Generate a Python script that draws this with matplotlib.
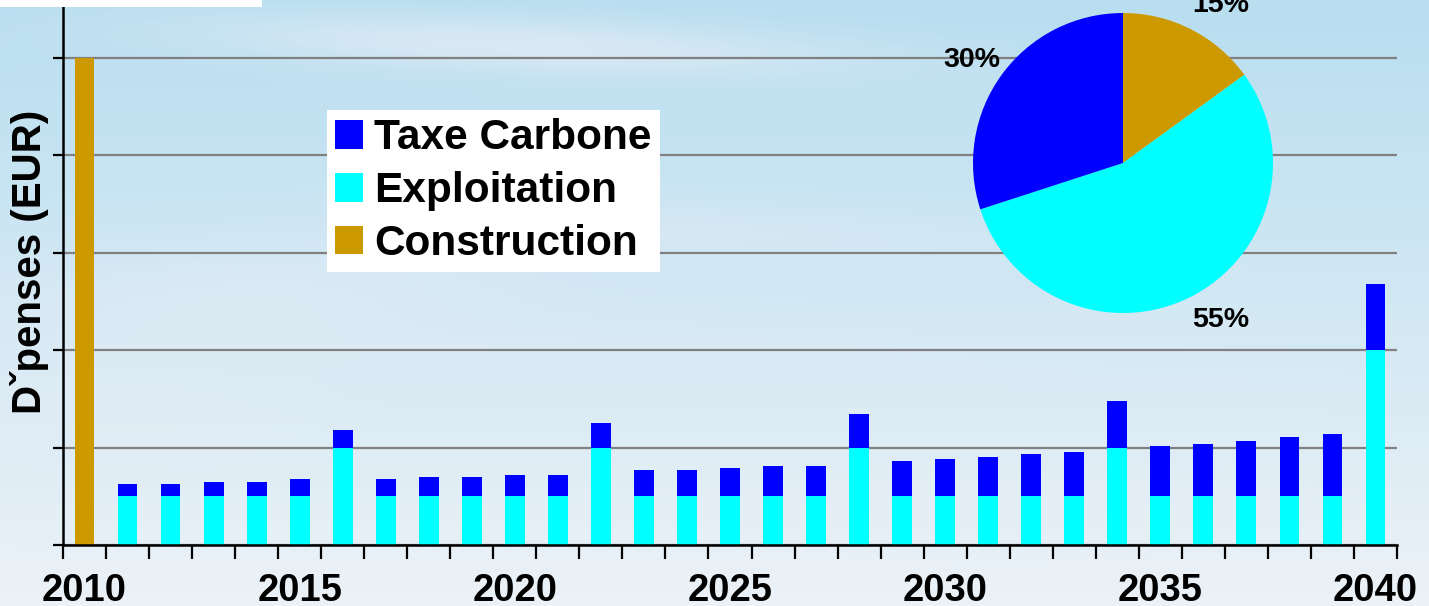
import numpy as np
import matplotlib
matplotlib.use("Agg")
import matplotlib.pyplot as plt
from matplotlib.patches import Rectangle

plt.rcParams['font.family'] = ['Liberation Sans', 'DejaVu Sans']
plt.rcParams['font.weight'] = 'bold'

# ---- data -------------------------------------------------------------
years = list(range(2010, 2041))
construction = [5.0] + [0.0] * 30
exploitation = [0.0,
                0.5, 0.5, 0.5, 0.5, 0.5, 1.0,
                0.5, 0.5, 0.5, 0.5, 0.5, 1.0,
                0.5, 0.5, 0.5, 0.5, 0.5, 1.0,
                0.5, 0.5, 0.5, 0.5, 0.5, 1.0,
                0.5, 0.5, 0.5, 0.5, 0.5, 2.0]
taxe_carbone = [0.0,
                0.13, 0.13, 0.15, 0.15, 0.175, 0.18,
                0.175, 0.195, 0.195, 0.22, 0.22, 0.25,
                0.27, 0.27, 0.29, 0.31, 0.31, 0.34,
                0.36, 0.38, 0.40, 0.43, 0.45, 0.48,
                0.52, 0.54, 0.565, 0.61, 0.64, 0.68]
labeled_years = [2010, 2015, 2020, 2025, 2030, 2035, 2040]

share_names = ['Construction', 'Exploitation', 'Taxe Carbone']
share_values = [15, 55, 30]
share_labels = ['15%', '55%', '30%']

colors = {'Construction': '#CC9900', 'Exploitation': '#00FFFF',
          'Taxe Carbone': '#0000FF'}

# ---- figure -----------------------------------------------------------
W, H = 1429, 606
fig = plt.figure(figsize=(W / 100, H / 100), dpi=100)

# sky background
yy, xx = np.mgrid[0:H, 0:W].astype(float)
t = yy / H
top = np.array([184, 222, 240]) / 255
bot = np.array([236, 242, 247]) / 255
bg = top[None, None, :] * (1 - t[..., None]) + bot[None, None, :] * t[..., None]
haze = np.zeros((H, W))
for cx, cy, sx, sy, amp, tilt in [
        (520, 45, 330, 28, 0.75, 0.04),
        (250, 300, 260, 55, 0.55, -0.05),
        (700, 230, 300, 30, 0.35, 0.03),
        (120, 420, 200, 60, 0.5, 0.0),
        (1000, 480, 400, 60, 0.35, 0.0),
        (600, 360, 380, 35, 0.35, 0.02)]:
    dy = (yy - cy) - tilt * (xx - cx)
    haze += amp * np.exp(-((xx - cx) / sx) ** 2 - (dy / sy) ** 2)
haze = np.clip(haze, 0, 1)[..., None]
cloud = np.array([228, 236, 245]) / 255
bg = bg * (1 - haze) + cloud[None, None, :] * haze
bgax = fig.add_axes([0, 0, 1, 1], zorder=-10)
bgax.imshow(bg, aspect='auto', extent=(0, 1, 0, 1))
bgax.set_axis_off()

# white box in the top-left corner
fig.patches.append(Rectangle((0, 1 - 7 / H), 262 / W, 7 / H,
                             transform=fig.transFigure, facecolor='white',
                             edgecolor='none', zorder=5))

# ---- stacked bars -----------------------------------------------------
ax = fig.add_axes([63 / W, 61 / H, (1397 - 63) / W, 545 / H])
ax.set_facecolor('none')
x = np.arange(len(years))
bw = 0.46
b_con = ax.bar(x, construction, bw, color=colors['Construction'],
               label='Construction', zorder=3)
b_exp = ax.bar(x, exploitation, bw, color=colors['Exploitation'],
               label='Exploitation', zorder=3)
b_tax = ax.bar(x, taxe_carbone, bw, bottom=exploitation,
               color=colors['Taxe Carbone'], label='Taxe Carbone', zorder=3)

ax.set_xlim(-0.5, len(years) - 0.5)
ax.set_ylim(0, 545 / 97.4)
ax.set_yticks([0, 1, 2, 3, 4, 5])
ax.set_yticklabels([])
ax.yaxis.grid(True, color='#808080', linewidth=1.6, zorder=1)
ax.set_axisbelow(True)

ax.set_xticks(np.arange(len(years) + 1) - 0.5)
ax.set_xticklabels([])
ax.set_xticks([years.index(y) for y in labeled_years], minor=True)
ax.set_xticklabels([str(y) for y in labeled_years], minor=True,
                   fontsize=27.5, fontweight='bold')
ax.tick_params(axis='x', which='major', direction='out', length=10,
               width=1.6, color='black')
ax.tick_params(axis='x', which='minor', length=0, pad=20)
ax.tick_params(axis='y', direction='out', length=7, width=1.6,
               color='black')
for side in ('top', 'right'):
    ax.spines[side].set_visible(False)
for side in ('left', 'bottom'):
    ax.spines[side].set_linewidth(1.8)
    ax.spines[side].set_color('black')
    ax.spines[side].set_zorder(4)

fig.text(30 / W, 1 - 262 / H, 'Dˇpenses (EUR)', rotation=90,
         ha='center', va='center', fontsize=29, fontweight='bold')

leg = fig.legend(handles=[b_tax, b_exp, b_con],
                 labels=['Taxe Carbone', 'Exploitation', 'Construction'],
                 loc='upper left', bbox_to_anchor=(327 / W, 1 - 110 / H),
                 bbox_transform=fig.transFigure, borderaxespad=0,
                 prop={'size': 30.5, 'weight': 'bold'},
                 handlelength=0.66, handleheight=0.66, handletextpad=0.26,
                 labelspacing=0.3, borderpad=0.2, fancybox=False,
                 framealpha=1, facecolor='white', edgecolor='none')
leg.set_zorder(6)

# ---- share pie --------------------------------------------------------
r_px = 150
cx_px, cy_px = 1123, 163
size = 2.5 * r_px
pax = fig.add_axes([(cx_px - size / 2) / W, 1 - (cy_px + size / 2) / H,
                    size / W, size / H], zorder=5)
pax.pie(share_values, colors=[colors[n] for n in share_names],
        startangle=90, counterclock=False,
        wedgeprops={'linewidth': 0})
pax.set_xlim(-1.25, 1.25)
pax.set_ylim(-1.25, 1.25)
pax.set_aspect('equal')
label_pos = [(0.653, 1.053), (0.653, -1.047), (-1.007, 0.687)]
for lbl, (lx, ly) in zip(share_labels, label_pos):
    pax.text(lx, ly, lbl, ha='center', va='center', fontsize=20.5,
             fontweight='bold', clip_on=False)

fig.savefig('out.png', dpi=100)
